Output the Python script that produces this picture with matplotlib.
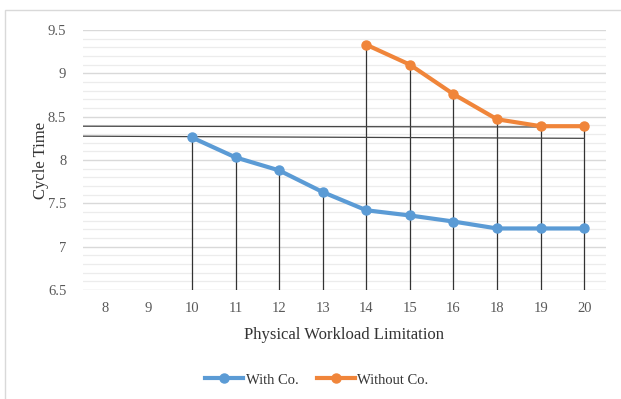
import numpy as np
import matplotlib.pyplot as plt
from matplotlib.patches import Rectangle

plt.rcParams['font.family'] = ['Liberation Serif', 'DejaVu Serif']

# chart data
categories = ["8", "9", "10", "11", "12", "13", "14", "15", "16", "18", "19", "20"]
with_co = [np.nan, np.nan, 8.26, 8.03, 7.88, 7.63, 7.42, 7.36, 7.29, 7.21, 7.21, 7.21]
without_co = [np.nan] * 6 + [9.33, 9.10, 8.76, 8.47, 8.39, 8.39]
# two reference lines drawn across the chart (start value, end value)
ref_line_1 = [8.39, 8.38]
ref_line_2 = [8.275, 8.25]

blue = "#5B9BD5"
orange = "#F0853A"
text_col = "#595959"

fig = plt.figure(figsize=(6.21, 3.99), dpi=100)
fig.patches.append(Rectangle((5 / 621, -0.05), 1.0, 1 - 10 / 399 + 0.05,
                             transform=fig.transFigure, fill=False,
                             edgecolor="#d9d9d9", linewidth=1))
ax = fig.add_axes([83 / 621, 1 - 290 / 399, (606 - 83) / 621, (290 - 30) / 399])

x = np.arange(len(categories))
ax.set_xlim(-0.5, len(categories) - 0.5)
ax.set_ylim(6.5, 9.5)

# gridlines
ax.set_yticks(np.arange(6.5, 9.51, 0.5))
ax.set_yticks(np.arange(6.5, 9.51, 0.1), minor=True)
ax.grid(axis="y", which="major", color="#d9d9d9", linewidth=1.0)
ax.grid(axis="y", which="minor", color="#ececec", linewidth=0.9)
ax.set_axisbelow(True)
for s in ax.spines.values():
    s.set_visible(False)

# drop lines from the top point of each category
tops = np.fmax(np.array(with_co), np.array(without_co))
for xi, t in zip(x, tops):
    if not np.isnan(t):
        ax.plot([xi, xi], [6.5, t], color="#333333", linewidth=0.9, zorder=2)

# reference lines
ax.plot([-0.5, x[-1]], ref_line_1, color="#444444", linewidth=0.9, zorder=2)
ax.plot([-0.5, x[-1]], ref_line_2, color="#444444", linewidth=0.9, zorder=2)

ax.plot(x, with_co, color=blue, linewidth=3, marker="o", markersize=6.5,
        label="With Co.", zorder=3)
ax.plot(x, without_co, color=orange, linewidth=3, marker="o", markersize=6.5,
        label="Without Co.", zorder=3)

ax.set_xticks(x)
ax.set_xticklabels(categories)
ax.set_yticklabels(["6.5", "7", "7.5", "8", "8.5", "9", "9.5"])
ax.tick_params(axis="both", which="both", length=0, labelsize=10.5, colors=text_col)
ax.tick_params(axis="x", pad=9)
ax.tick_params(axis="y", pad=12)

ax.set_xlabel("Physical Workload Limitation", fontsize=12, color="#333333", labelpad=8)
ax.set_ylabel("Cycle Time", fontsize=12, color="#333333", labelpad=-1)

fig.legend(loc="center", bbox_to_anchor=(317 / 621, 1 - 380 / 399), ncol=2,
           frameon=False, fontsize=10.5, handlelength=2.6, columnspacing=1.3,
           handletextpad=0.15, labelcolor="#333333")

fig.savefig("out.png", dpi=100)
